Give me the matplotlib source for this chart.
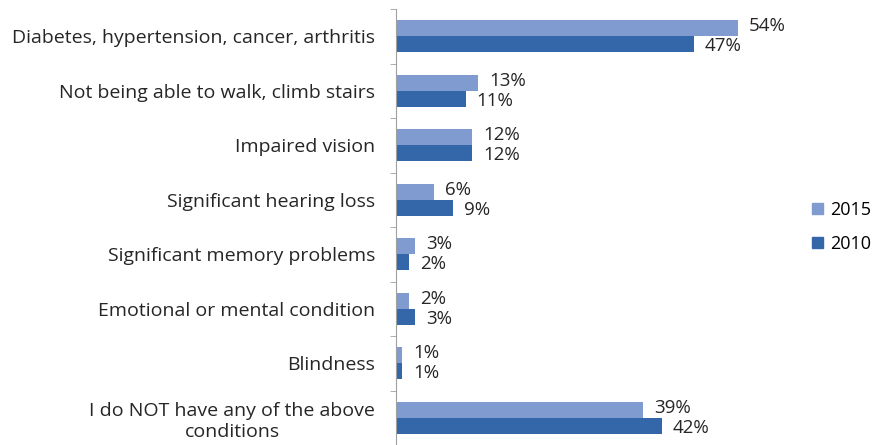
import numpy as np
import matplotlib.pyplot as plt
from matplotlib.patches import Patch

categories = ["Diabetes, hypertension, cancer, arthritis",
              "Not being able to walk, climb stairs",
              "Impaired vision",
              "Significant hearing loss",
              "Significant memory problems",
              "Emotional or mental condition",
              "Blindness",
              "I do NOT have any of the above\nconditions"]
vals_2015 = [54, 13, 12, 6, 3, 2, 1, 39]
vals_2010 = [47, 11, 12, 9, 2, 3, 1, 42]
series_names = ["2015", "2010"]

c2015 = "#7f9bcf"
c2010 = "#3466aa"

plt.rcParams['font.family'] = ['Open Sans', 'DejaVu Sans']

fig = plt.figure(figsize=(8.74, 4.45), dpi=100)
# axes placement in pixels: x from 396 to 776 (0..60%), y from 9 to 445
ax = fig.add_axes([396 / 874, 0, 380 / 874, 436 / 445])

n = len(categories)
y = np.arange(n)
h = 0.295
ax.barh(y - h / 2, vals_2015, height=h, color=c2015, label="2015")
ax.barh(y + h / 2, vals_2010, height=h, color=c2010, label="2010")

# value labels, nudged a little apart so the pairs don't collide
for i in range(n):
    ax.annotate(f"{vals_2015[i]}%", (vals_2015[i], y[i] - h / 2), xytext=(8, 1.5),
                textcoords="offset points", va="center", ha="left",
                fontsize=13.5, color="#262626", annotation_clip=False)
    ax.annotate(f"{vals_2010[i]}%", (vals_2010[i], y[i] + h / 2), xytext=(8, -1.5),
                textcoords="offset points", va="center", ha="left",
                fontsize=13.5, color="#262626", annotation_clip=False)

ax.set_xlim(0, 60)
ax.set_ylim(n - 0.5, -0.5)
ax.set_yticks(y)
ax.set_yticklabels(categories, fontsize=14, color="#262626", multialignment="center")
ax.set_yticks(np.arange(n + 1) - 0.5, minor=True)
ax.tick_params(axis="y", which="major", length=0, pad=15)
ax.tick_params(axis="y", which="minor", length=4, color="#a0a0a0", direction="out")
ax.set_xticks([])
for s in ["top", "right", "bottom"]:
    ax.spines[s].set_visible(False)
ax.spines["left"].set_color("#a0a0a0")

handles = [Patch(color=c2015), Patch(color=c2010)]
fig.legend(handles, series_names, loc="center left", bbox_to_anchor=(796 / 874, 1 - 227 / 445),
           frameon=False, fontsize=13, handlelength=0.6, handleheight=0.6,
           labelspacing=0.9, handletextpad=0.4)

fig.savefig("out.png", dpi=100)
